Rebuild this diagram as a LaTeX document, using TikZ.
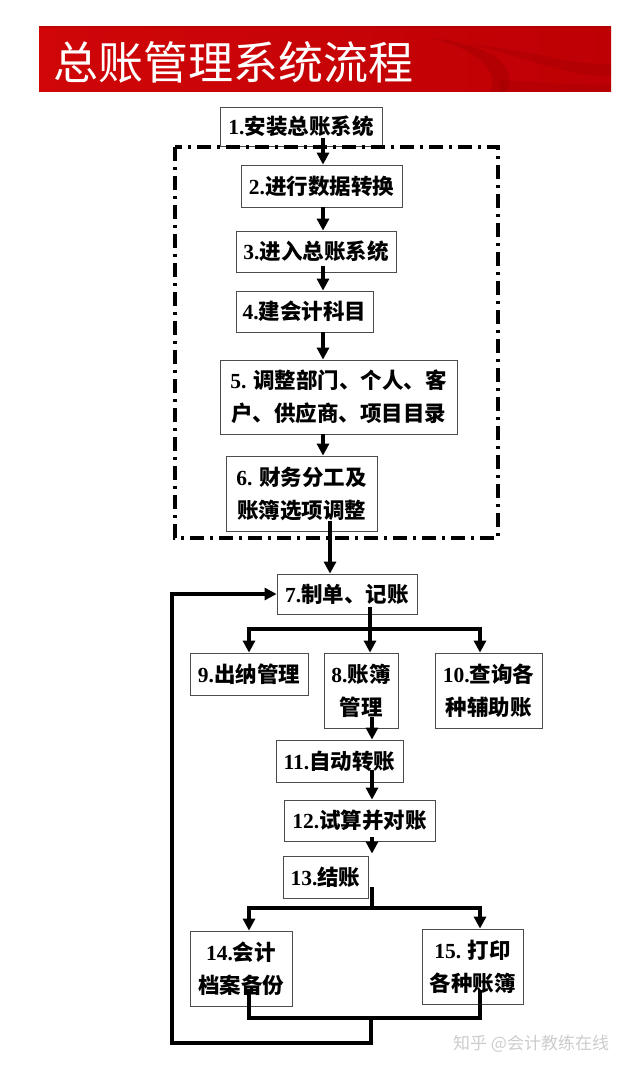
\documentclass[tikz,border=0pt]{standalone}
\usepackage{fontspec}
\setmainfont{Liberation Serif}
\newfontfamily\cjk{Noto Sans CJK SC}
\usetikzlibrary{arrows.meta,calc}
\newcommand\nm[1]{{\rmfamily\bfseries #1}}
\definecolor{bannerA}{RGB}{208,6,8}
\definecolor{bannerB}{RGB}{190,0,4}
\definecolor{swirl}{RGB}{130,0,0}
\tikzset{
  box/.style={draw=black!70, line width=0.8pt, fill=white, inner sep=0pt, align=center,
    font=\cjk\bfseries\fontsize{21.5}{33}\selectfont},
  arr/.style={line width=3.4pt, -{Triangle[width=12pt,length=12pt]}},
  ln/.style={line width=3.4pt},
  group/.style={line width=3.2pt, dash pattern=on 14pt off 6pt on 3pt off 6pt},
}
\begin{document}
\begin{tikzpicture}[x=1pt,y=-1pt]
\useasboundingbox (0,0) rectangle (640,1071);
% banner
\shade[left color=bannerA, right color=bannerB] (39,26) rectangle (611,91);
\begin{scope}
  \clip (39,26) rectangle (611,91);
  \fill[swirl, opacity=0.22] (430,38) .. controls (495,44) and (520,70) .. (505,92)
        -- (490,92) .. controls (500,72) and (480,50) .. (430,38) -- cycle;
  \fill[swirl, opacity=0.18] (470,44) .. controls (540,52) and (575,66) .. (612,64)
        -- (612,76) .. controls (575,78) and (540,62) .. (470,44) -- cycle;
  \fill[swirl, opacity=0.15] (500,80) .. controls (540,82) and (580,86) .. (612,84)
        -- (612,91) -- (500,91) -- cycle;
  \draw[swirl, opacity=0.2, line width=2pt] (39,27) -- (611,27);
\end{scope}
\node[anchor=west, text=white, inner sep=0pt, font=\cjk\fontsize{45}{45}\selectfont] (title) at (53,62) {总账管理系统流程};

% columns
\coordinate (x323) at (323,0);
\coordinate (x330) at (330,0);
\coordinate (x372) at (372,0);
\coordinate (x249) at (249,0);
\coordinate (x480) at (480,0);

% boxes
\node[box, minimum width=162pt, minimum height=39pt] (b1) at (301,126.5) {\nm{1.}安装总账系统};
\node[box, minimum width=161pt, minimum height=42pt] (b2) at (321.5,186) {\nm{2.}进行数据转换};
\node[box, minimum width=160pt, minimum height=41pt] (b3) at (316,251.5) {\nm{3.}进入总账系统};
\node[box, minimum width=137pt, minimum height=41pt] (b4) at (304.5,311.5) {\nm{4.}建会计科目};
\node[box, minimum width=237pt, minimum height=74pt] (b5) at (338.5,397) {\nm{5.} 调整部门、个人、客\\户、供应商、项目目录};
\node[box, minimum width=151pt, minimum height=75pt] (b6) at (301.5,493.5) {\nm{6.} 财务分工及\\账簿选项调整};
\node[box, minimum width=140pt, minimum height=40pt] (b7) at (347,594) {\nm{7.}制单、记账};
\node[box, minimum width=118pt, minimum height=42pt] (b9) at (249,674) {\nm{9.}出纳管理};
\node[box, minimum width=74pt, minimum height=75pt] (b8) at (361,690.5) {\nm{8.}账簿\\管理};
\node[box, minimum width=107pt, minimum height=75pt] (b10) at (488.5,690.5) {\nm{10.}查询各\\种辅助账};
\node[box, minimum width=127pt, minimum height=42pt] (b11) at (339.5,761) {\nm{11.}自动转账};
\node[box, minimum width=151pt, minimum height=41pt] (b12) at (359.5,820.5) {\nm{12.}试算并对账};
\node[box, minimum width=85pt, minimum height=42pt] (b13) at (325.5,877) {\nm{13.}结账};
\node[box, minimum width=102pt, minimum height=75pt] (b14) at (241,968.5) {\nm{14.}会计\\档案备份};
\node[box, minimum width=101pt, minimum height=75pt] (b15) at (472.5,966.5) {\nm{15.} 打印\\各种账簿};

% dash-dot group frame
\draw[group] (175,147) rectangle (498,538);

% connectors
\draw[arr] ($(b1.south -| x323)+(0,-8)$) -- (b2.north -| x323);
\draw[arr] (b2.south -| x323) -- (b3.north -| x323);
\draw[arr] ($(b3.south -| x323)+(0,-6)$) -- (b4.north -| x323);
\draw[arr] (b4.south -| x323) -- (b5.north -| x323);
\draw[arr] (b5.south -| x323) -- (b6.north -| x323);
\draw[arr] ($(b6.south -| x330)+(0,-10)$) -- (b7.north -| x330);

\coordinate (j1) at (370,629);
\draw[arr] ($(b7.south -| j1)+(0,-7)$) -- (b8.north -| j1);
\draw[arr] (j1) -| (b9.north -| x249);
\draw[arr] (j1) -| (b10.north -| x480);

\draw[arr] ($(b8.south -| x372)+(0,-11)$) -- (b11.north -| x372);
\draw[arr] ($(b11.south -| x372)+(0,-12)$) -- (b12.north -| x372);
\draw[arr] ($(b12.south -| x372)+(0,-4)$) -- ($(b13.north -| x372)+(0,-2)$);

\coordinate (j2) at (372,908);
\draw[ln] ($(b13.south -| x372)+(0,-11)$) -- (j2);
\draw[arr] (j2) -| (b14.north -| x249);
\draw[arr] (j2) -| (b15.north -| x480);

\coordinate (j3) at (371,1018);
\coordinate (j4) at (172,1043);
\draw[ln] ($(b14.south -| x249)+(0,-15)$) |- (j3) -| ($(b15.south -| x480)+(0,-14)$);
\draw[arr] (j3) -- (j3 |- j4) -- (j4) |- (b7.west);

% watermark
\node[anchor=west, text=black!20, inner sep=0pt, font=\cjk\fontsize{17}{17}\selectfont] (wm) at (453,1044) {知乎 @会计教练在线};
\end{tikzpicture}
\end{document}
